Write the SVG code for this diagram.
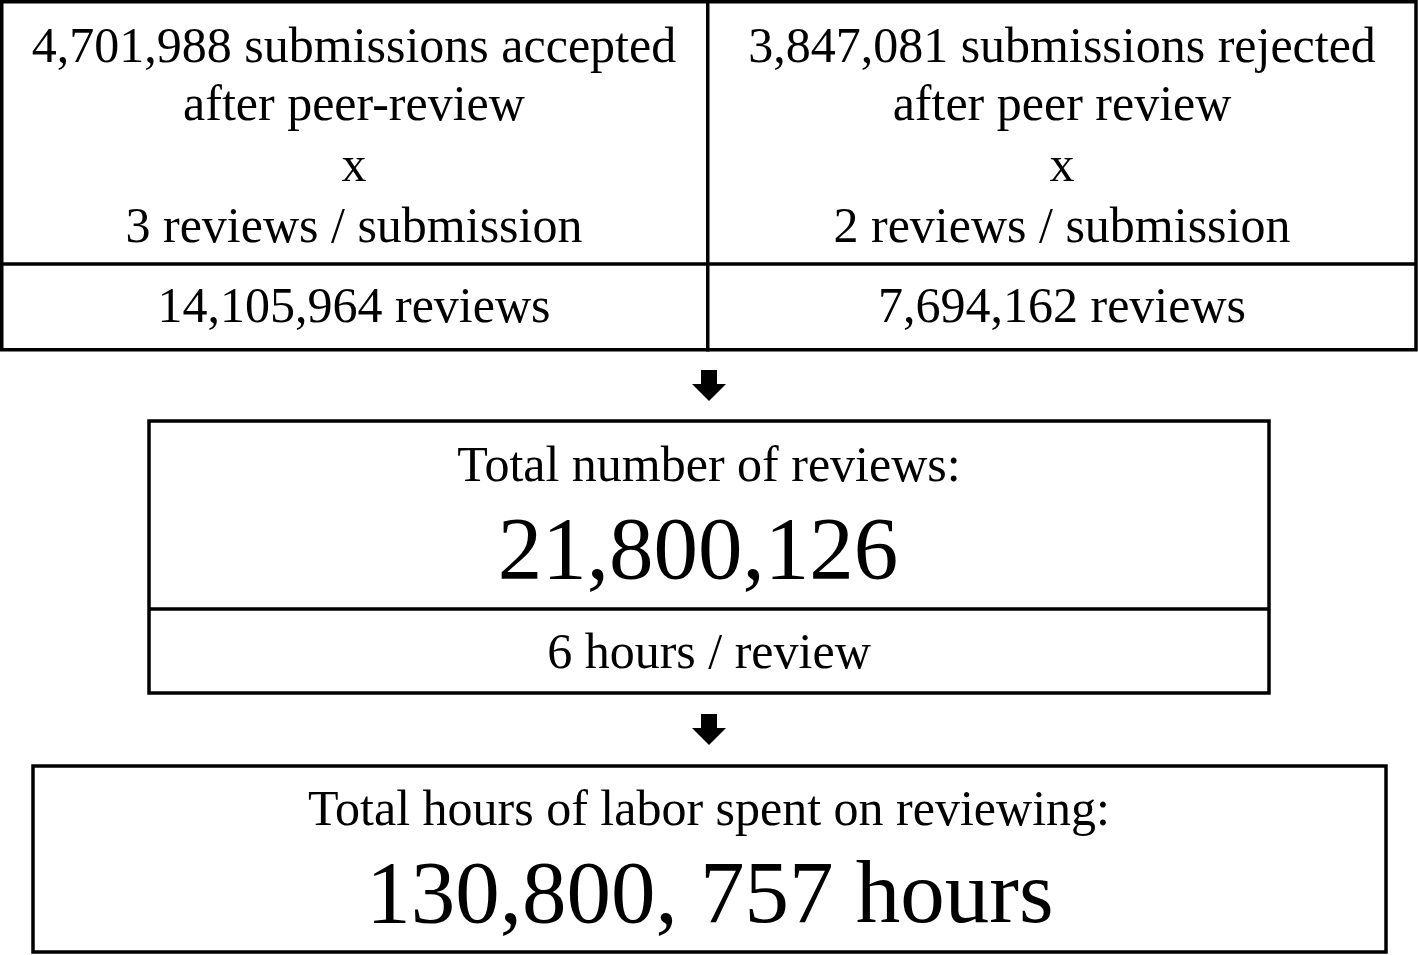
<svg xmlns="http://www.w3.org/2000/svg" width="1418" height="955" viewBox="0 0 1418 955">
<style>
.box{fill:#fff;stroke:#000;stroke-width:3.5}
.ln{stroke:#000;stroke-width:3.5;fill:none}
text{font-family:"Liberation Serif","Times New Roman",serif;fill:#000;text-anchor:middle}
.t{font-size:50px}
.big{font-size:89px}
.arr{fill:#000}
</style>
<rect width="1418" height="955" fill="#fff"/>
<g id="accepted">
<rect class="box" x="1.75" y="1.75" width="706" height="348"/>
<text class="t" x="354" y="62">4,701,988 submissions accepted</text>
<text class="t" x="354" y="120">after peer-review</text>
<text class="t" x="354" y="181">x</text>
<text class="t" x="354" y="242">3 reviews / submission</text>
<line class="ln" x1="1.75" y1="264" x2="707.75" y2="264"/>
<text class="t" x="354" y="322">14,105,964 reviews</text>
</g>
<g id="rejected">
<rect class="box" x="707.75" y="1.75" width="708.25" height="348"/>
<text class="t" x="1062" y="62">3,847,081 submissions rejected</text>
<text class="t" x="1062" y="120">after peer review</text>
<text class="t" x="1062" y="181">x</text>
<text class="t" x="1062" y="242">2 reviews / submission</text>
<line class="ln" x1="707.75" y1="264" x2="1416" y2="264"/>
<text class="t" x="1062" y="322">7,694,162 reviews</text>
</g>
<g id="total-reviews">
<rect class="box" x="149" y="421" width="1120" height="272"/>
<text class="t" x="709" y="481">Total number of reviews:</text>
<text class="big" x="698" y="578">21,800,126</text>
<line class="ln" x1="149" y1="609" x2="1269" y2="609"/>
<text class="t" x="709" y="668">6 hours / review</text>
</g>
<g id="total-hours">
<rect class="box" x="33" y="766" width="1353" height="186"/>
<text class="t" x="709" y="825">Total hours of labor spent on reviewing:</text>
<text class="big" x="710" y="922">130,800, 757 hours</text>
</g>
<g id="connectors">
<polygon class="arr" points="701,370 717,370 717,384 726,384 709,401 692,384 701,384"/>
<polygon class="arr" points="701,714 717,714 717,728 726,728 709,745 692,728 701,728"/>
</g>
</svg>
